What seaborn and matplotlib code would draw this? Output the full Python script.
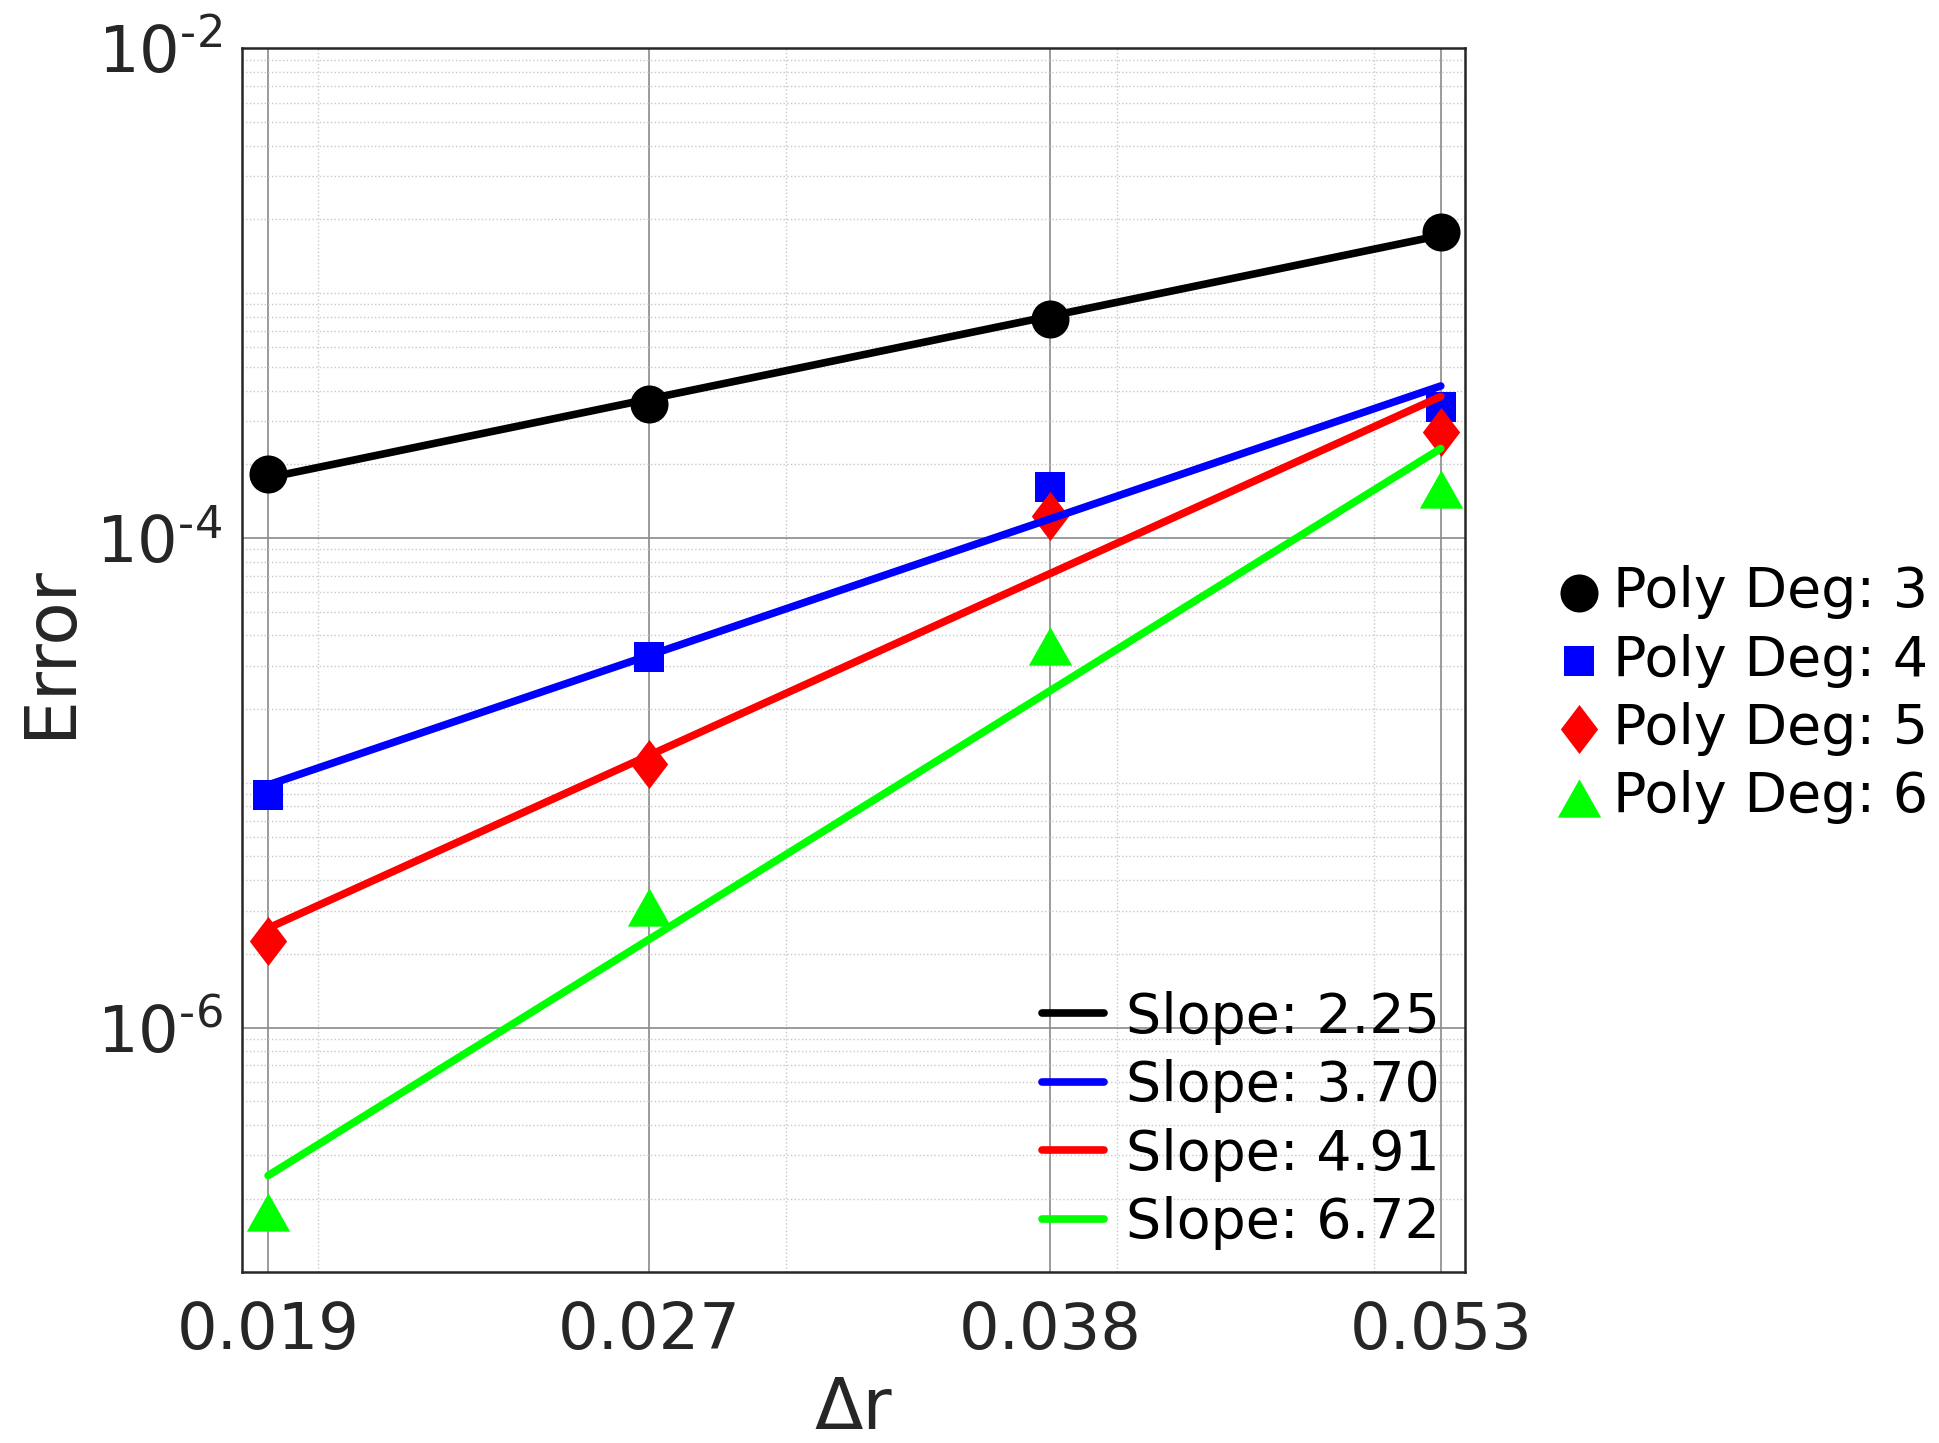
import numpy as np
import pandas as pd
import seaborn as sns
import matplotlib.pyplot as plt
from matplotlib.ticker import FixedLocator, NullFormatter

sns.set_theme(style="white")
plt.rcParams['font.family'] = ['DejaVu Sans']

# mesh spacing (x) and errors per polynomial degree
dr = [0.019145, 0.02665, 0.03775, 0.05297]
dr_labels = ['0.019', '0.027', '0.038', '0.053']
err_deg3 = [1.83e-4, 3.54e-4, 7.83e-4, 1.780e-3]
err_deg4 = [8.95e-6, 3.26e-5, 1.62e-4, 3.43e-4]
err_deg5 = [2.25e-6, 1.19e-5, 1.23e-4, 2.71e-4]
err_deg6 = [1.76e-7, 3.11e-6, 3.61e-5, 1.59e-4]
degrees = [3, 4, 5, 6]
slopes = [2.25, 3.70, 4.91, 6.72]

colors = ['#000000', '#0000ff', '#ff0000', '#00ff00']
diamond = [(0, 1), (0.76, 0), (0, -1), (-0.76, 0)]
triangle = [(-1, -0.884), (1, -0.884), (0, 0.884)]
markers = ['o', 's', diamond, triangle]
msizes = [750, 450, 1250, 975]

df = pd.DataFrame({
    'dr': dr * 4,
    'err': err_deg3 + err_deg4 + err_deg5 + err_deg6,
    'deg': np.repeat(degrees, 4),
})

fig, ax = plt.subplots(figsize=(19.39, 14.43), dpi=100)
fig.subplots_adjust(left=0.1247, right=0.7557, bottom=0.1183, top=0.9665)

pt_handles, line_handles = [], []
for deg, col, mk, ms, slope in zip(degrees, colors, markers, msizes, slopes):
    sub = df[df['deg'] == deg]
    sns.scatterplot(data=sub, x='dr', y='err', ax=ax, color=col, marker=mk,
                    s=ms, linewidth=0, zorder=3, legend=False)
    pt_handles.append(ax.collections[-1])
    # least squares fit in log-log space
    p = np.polyfit(np.log10(sub['dr']), np.log10(sub['err']), 1)
    fit = pd.DataFrame({'dr': sub['dr'].values,
                        'fit': 10 ** np.polyval(p, np.log10(sub['dr'].values))})
    sns.lineplot(data=fit, x='dr', y='fit', ax=ax, color=col, lw=5.5,
                 zorder=4, legend=False)
    line_handles.append(ax.lines[-1])

ax.set_xscale('log')
ax.set_yscale('log')
ax.set_xlim(0.018713, 0.05411)
ax.set_ylim(1e-7, 1e-2)

ax.set_xticks(dr, dr_labels)
ax.xaxis.set_minor_locator(FixedLocator([0.02, 0.03, 0.04, 0.05]))
ax.xaxis.set_minor_formatter(NullFormatter())
ax.set_yticks([1e-6, 1e-4, 1e-2],
              [r'$\mathdefault{10^{\text{-}6}}$', r'$\mathdefault{10^{\text{-}4}}$',
               r'$\mathdefault{10^{\text{-}2}}$'])
yminor = [m * 10.0 ** e for e in range(-7, -2) for m in range(1, 10)
          if not (m == 1 and e % 2 == 0)]
ax.yaxis.set_minor_locator(FixedLocator(yminor))
ax.yaxis.set_minor_formatter(NullFormatter())

ax.grid(which='major', color='#8a8a8a', lw=1.2, ls='-')
ax.grid(which='minor', color='#c8c8c8', lw=1.0, ls=':')
ax.set_axisbelow(True)
for sp in ax.spines.values():
    sp.set_color('#262626')
    sp.set_linewidth(1.8)

ax.tick_params(axis='both', which='both', length=0, labelsize=46,
               labelcolor='#262626')
ax.tick_params(axis='x', pad=20)
ax.tick_params(axis='y', pad=14)
ax.set_xlabel('Δr', fontsize=51, color='#262626', labelpad=9)
ax.set_ylabel('Error', fontsize=51, color='#262626', labelpad=8)
ax.yaxis.label.set_y(0.507)

leg1 = ax.legend(pt_handles, [f'Poly Deg: {d}' for d in degrees],
                 loc='center left', bbox_to_anchor=(0.8004, 0.5185),
                 bbox_transform=fig.transFigure, frameon=False, fontsize=40,
                 handlelength=0.96, handletextpad=0.14, labelspacing=0.26,
                 borderpad=0, borderaxespad=0)
for t in leg1.get_texts():
    t.set_color('black')
ax.add_artist(leg1)

leg2 = ax.legend(line_handles, [f'Slope: {s:.2f}' for s in slopes],
                 loc='lower right', bbox_to_anchor=(1440 / 1939, 0.1337),
                 bbox_transform=fig.transFigure, frameon=False, fontsize=40,
                 handlelength=1.12, handletextpad=0.4, labelspacing=0.26,
                 borderpad=0, borderaxespad=0)
for t in leg2.get_texts():
    t.set_color('black')

fig.savefig('out.png', dpi=100)
